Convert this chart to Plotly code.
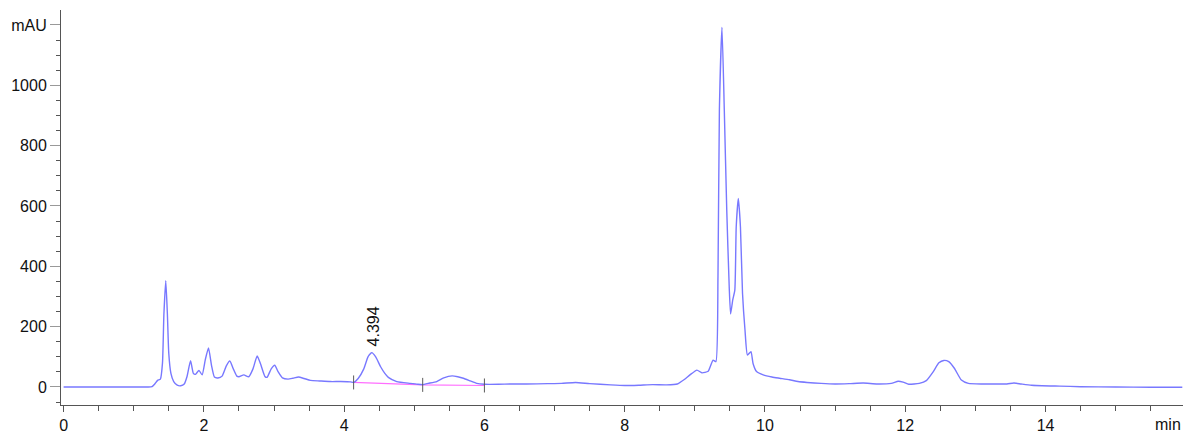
import plotly.graph_objects as go

# Chromatogram (time in min, signal in mAU)
time_min = [0.0, 0.5, 1.0, 1.2, 1.26, 1.30, 1.34, 1.38, 1.41, 1.43, 1.457, 1.48, 1.50, 1.53, 1.57, 1.62, 1.67,
            1.72, 1.76, 1.81, 1.85, 1.88, 1.93, 1.975, 2.02, 2.066, 2.11, 2.15, 2.20, 2.26, 2.32, 2.37, 2.42,
            2.47, 2.50, 2.57, 2.64, 2.70, 2.76, 2.81, 2.87, 2.90, 2.96, 3.01, 3.06, 3.12, 3.20, 3.27, 3.35,
            3.43, 3.52, 3.65, 3.80, 3.95, 4.09, 4.135, 4.20, 4.28, 4.34, 4.394, 4.45, 4.52, 4.58, 4.63, 4.75,
            4.94, 5.05, 5.12, 5.20, 5.32, 5.42, 5.54, 5.62, 5.70, 5.80, 5.89, 6.0, 6.2, 6.37, 6.6, 6.9, 7.1,
            7.3, 7.5, 7.8, 8.0, 8.2, 8.4, 8.6, 8.75, 8.85, 8.93, 9.03, 9.10, 9.19, 9.26, 9.30, 9.33, 9.35,
            9.387, 9.42, 9.455, 9.49, 9.51, 9.54, 9.57, 9.59, 9.62, 9.65, 9.68, 9.715, 9.75, 9.80, 9.83, 9.88,
            9.975, 10.1, 10.21, 10.35, 10.47, 10.6, 10.8, 11.0, 11.2, 11.4, 11.6, 11.8, 11.9, 11.97, 12.05,
            12.2, 12.3, 12.4, 12.48, 12.55, 12.62, 12.7, 12.8, 12.9, 13.1, 13.3, 13.45, 13.55, 13.65, 13.8,
            14.2, 14.5, 15.0, 15.5, 15.95]
signal_mau = [0, 0, 0, 0, 1, 10, 22, 26, 80, 240, 352, 240, 110, 45, 18, 6, 4,
              10, 35, 87, 45, 42, 55, 40, 90, 129, 70, 33, 30, 36, 70, 86, 60,
              36, 34, 40, 34, 60, 103, 75, 35, 32, 60, 72, 50, 30, 26, 29, 33,
              28, 22, 20, 18, 18, 17, 15, 28, 60, 100, 114, 100, 67, 45, 32, 18,
              12, 9, 8, 12, 18, 30, 37, 34, 29, 20, 12, 9, 9, 10, 10, 11, 12,
              15, 11, 7, 5, 6, 8, 7, 10, 25, 40, 56, 47, 52, 89, 84, 366, 918,
              1192, 918, 587, 332, 242, 288, 321, 531, 625, 531, 310, 189, 106, 117, 78, 51,
              40, 33, 29, 24, 18, 15, 12, 10, 11, 13, 10, 12, 19, 16, 9,
              12, 21, 51, 80, 88, 84, 62, 23, 12, 10, 10, 10, 13, 10, 6,
              3, 1, 0, -1, -1]

# Integration baseline and its start/stop markers
baseline_time = [4.135, 5.12, 6.0]
baseline_mau = [15, 7, 5]

# Labelled peak
peak_label = "4.394"
peak_time = 4.394
peak_mau = 114

y_tick_vals = [0, 200, 400, 600, 800, 1000, 1200]
y_tick_text = ["0", "200", "400", "600", "800", "1000", "mAU"]
x_tick_vals = [0, 2, 4, 6, 8, 10, 12, 14]

font_family = "Liberation Sans, Arial, sans-serif"

fig = go.Figure()
fig.add_trace(go.Scatter(x=baseline_time, y=baseline_mau, mode="lines",
                         line=dict(color="rgb(255,110,255)", width=1.2), hoverinfo="skip"))
fig.add_trace(go.Scatter(x=time_min, y=signal_mau, mode="lines",
                         line=dict(color="rgb(120,120,255)", width=1.4, shape="spline", smoothing=0.5)))
fig.add_trace(go.Scatter(x=baseline_time, y=baseline_mau, mode="markers",
                         marker=dict(symbol="line-ns", size=10, line=dict(color="rgb(90,90,90)", width=1)),
                         hoverinfo="skip"))

fig.add_annotation(x=peak_time, y=peak_mau, text=peak_label, textangle=-90, showarrow=False,
                   xanchor="center", yanchor="bottom", xshift=2, yshift=4,
                   font=dict(family=font_family, size=16, color="#111"))
fig.add_annotation(x=15.74, y=0, xref="x", yref="paper", text="min", showarrow=False,
                   xanchor="center", yanchor="top", yshift=-9,
                   font=dict(family=font_family, size=16, color="#111"))

fig.update_layout(
    width=1200, height=445,
    margin=dict(l=61, r=17, t=10, b=40),
    paper_bgcolor="white", plot_bgcolor="white",
    showlegend=False,
    font=dict(family=font_family, size=16, color="#111"),
    xaxis=dict(range=[-0.037, 15.96], tickvals=x_tick_vals, ticks="outside", ticklen=6,
               tickcolor="#555", showline=True, linecolor="#555", linewidth=1,
               showgrid=False, zeroline=False, automargin=False,
               minor=dict(dtick=0.5, ticks="outside", ticklen=5, tickcolor="#555", showgrid=False)),
    yaxis=dict(range=[-59.7, 1249.6], tickvals=y_tick_vals, ticktext=y_tick_text,
               ticks="outside", ticklen=10, tickcolor="#999", showline=True, linecolor="#555",
               linewidth=1, showgrid=False, zeroline=False, automargin=False,
               minor=dict(dtick=50, ticks="outside", ticklen=4, tickcolor="#555", showgrid=False)),
)

fig.write_html("out.html", config={"displayModeBar": False},
               post_script="document.body.style.margin='0';document.body.style.overflow='hidden';")
